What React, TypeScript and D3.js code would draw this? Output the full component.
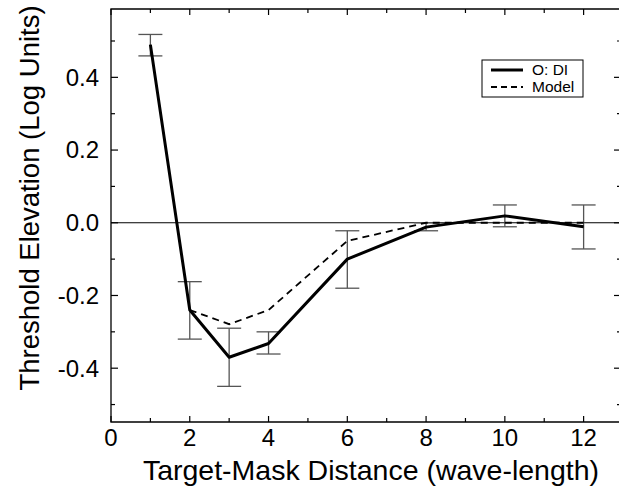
import React from "react";
import * as d3 from "d3";

const distances = [1, 2, 3, 4, 6, 8, 10, 12];
const observed = [0.49, -0.24, -0.37, -0.332, -0.1, -0.012, 0.019, -0.011];
const errLow = [0.459, -0.32, -0.45, -0.361, -0.18, -0.022, -0.011, -0.072];
const errHigh = [0.518, -0.162, -0.29, -0.3, -0.022, 0.0, 0.049, 0.049];
const modelX = [2, 3, 4, 6, 8, 10, 12];
const modelY = [-0.24, -0.279, -0.24, -0.05, 0.0, 0.0, 0.0];
const xTicks = [0, 2, 4, 6, 8, 10, 12];
const xMinor = [1, 3, 5, 7, 9, 11];
const yTicks = [-0.4, -0.2, 0.0, 0.2, 0.4];
const yMinor = [-0.5, -0.3, -0.1, 0.1, 0.3, 0.5];
const legendLabels = ["O: DI", "Model"];

const W = 619;
const H = 501;
const L = 111, R = 623, T = 9, B = 422;

export default function App() {
  const x = d3.scaleLinear().domain([0, 13]).range([L, R]);
  const y = d3.scaleLinear().domain([-0.548, 0.588]).range([B, T]);
  const font = "Arial, 'Liberation Sans', sans-serif";
  const obsLine = d3.line<number>().x((d, i) => x(distances[i])).y((d) => y(d))(observed) || "";
  const modLine = d3.line<number>().x((d, i) => x(modelX[i])).y((d) => y(d))(modelY) || "";
  const cap = 12;
  const errColor = "#555";
  return (
    <svg width={W} height={H} style={{ position: "absolute", left: 0, top: 0, background: "#fff" }}>
      <line x1={L} x2={R} y1={y(0)} y2={y(0)} stroke="#000" strokeWidth={1.2} />
      {distances.map((d, i) => (
        <g key={"e" + i} stroke={errColor} strokeWidth={1.3}>
          <line x1={x(d)} x2={x(d)} y1={y(errLow[i])} y2={y(errHigh[i])} />
          <line x1={x(d) - cap} x2={x(d) + cap} y1={y(errLow[i])} y2={y(errLow[i])} />
          <line x1={x(d) - cap} x2={x(d) + cap} y1={y(errHigh[i])} y2={y(errHigh[i])} />
        </g>
      ))}
      <path d={modLine} fill="none" stroke="#000" strokeWidth={1.8} strokeDasharray="7,5" />
      <path d={obsLine} fill="none" stroke="#000" strokeWidth={3} strokeLinejoin="round" />
      <path d={`M${R},${T}H${L}V${B}H${R}`} fill="none" stroke="#000" strokeWidth={1.3} />
      {xTicks.map((t) => (
        <g key={"xt" + t} stroke="#000" strokeWidth={1.2}>
          <line x1={x(t)} x2={x(t)} y1={B} y2={B - 6} />
          <line x1={x(t)} x2={x(t)} y1={T} y2={T + 6} />
        </g>
      ))}
      {xMinor.map((t) => (
        <g key={"xm" + t} stroke="#000" strokeWidth={1.2}>
          <line x1={x(t)} x2={x(t)} y1={B} y2={B - 4} />
          <line x1={x(t)} x2={x(t)} y1={T} y2={T + 4} />
        </g>
      ))}
      {yTicks.map((t) => (
        <g key={"yt" + t} stroke="#000" strokeWidth={1.2}>
          <line x1={L} x2={L + 7} y1={y(t)} y2={y(t)} />
          <line x1={R - 2} x2={R - 9} y1={y(t)} y2={y(t)} />
        </g>
      ))}
      {yMinor.map((t) => (
        <g key={"ym" + t} stroke="#000" strokeWidth={1.2}>
          <line x1={L} x2={L + 4} y1={y(t)} y2={y(t)} />
          <line x1={R - 2} x2={R - 6} y1={y(t)} y2={y(t)} />
        </g>
      ))}
      {xTicks.map((t) => (
        <text key={"xl" + t} x={x(t)} y={446} textAnchor="middle" fontFamily={font} fontSize={24}>
          {t}
        </text>
      ))}
      {yTicks.map((t) => (
        <text key={"yl" + t} x={99} y={y(t)} dy="0.35em" textAnchor="end" fontFamily={font} fontSize={24}>
          {d3.format(".1f")(t).replace("−", "-")}
        </text>
      ))}
      <text x={371} y={480} textAnchor="middle" fontFamily={font} fontSize={28.5}>
        Target-Mask Distance (wave-length)
      </text>
      <text transform={`translate(39,198) rotate(-90)`} textAnchor="middle" fontFamily={font} fontSize={27.5}>
        Threshold Elevation (Log Units)
      </text>
      <rect x={482} y={60} width={101} height={37} fill="#fff" stroke="#000" strokeWidth={1} />
      <line x1={491} x2={523} y1={70} y2={70} stroke="#000" strokeWidth={3} />
      <line x1={491} x2={523} y1={87} y2={87} stroke="#000" strokeWidth={1.8} strokeDasharray="6,4" />
      <text x={532} y={70} dy="0.35em" fontFamily={font} fontSize={15.5}>{legendLabels[0]}</text>
      <text x={532} y={87} dy="0.35em" fontFamily={font} fontSize={15.5}>{legendLabels[1]}</text>
    </svg>
  );
}
